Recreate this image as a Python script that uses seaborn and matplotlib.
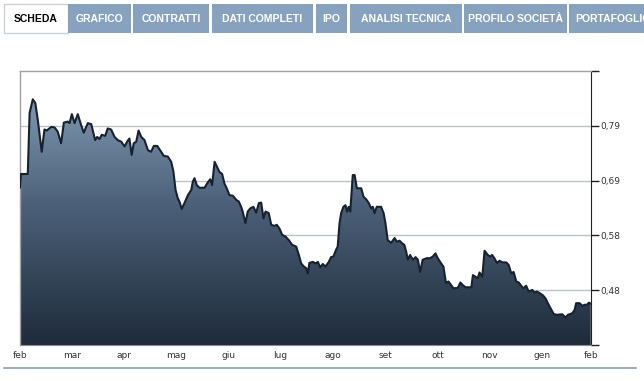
import numpy as np
import matplotlib
matplotlib.use("Agg")
import matplotlib.pyplot as plt
from matplotlib.colors import LinearSegmentedColormap
from matplotlib.patches import Rectangle
import seaborn as sns

# trading sessions (feb -> feb) and closing price
sessions = [0, 0.4, 3.4, 4.2, 5.6, 6.7, 7.8, 9.5, 10.7, 11.7, 13.7, 15.1, 16.5, 18.0, 19.2,
            20.9, 21.7, 22.7, 23.9, 25.3, 26.5, 27.9, 29.7, 31.2, 32.9, 33.8, 34.8, 35.8,
            37.3, 38.4, 39.9, 41.4, 42.8, 44.3, 45.8, 46.9, 47.9, 48.9, 49.8, 50.9, 51.9,
            53.1, 54.5, 56.0, 57.4, 58.6, 60.1, 61.8, 63.0, 64.7, 66.2, 67.2, 68.1, 69.1,
            69.8, 70.8, 72.0, 73.5, 75.0, 75.7, 76.4, 77.4, 78.6, 80.8, 82.2, 83.3, 84.1,
            85.2, 86.2, 87.3, 88.5, 89.5, 90.5, 91.7, 93.2, 94.7, 95.8, 96.8, 97.5, 98.7,
            99.7, 100.8, 102.2, 103.4, 104.6, 105.6, 106.6, 107.5, 108.9, 110.0, 111.4,
            112.4, 113.6, 114.8, 116.2, 117.7, 119.2, 120.9, 122.1, 123.1, 124.1, 125.3,
            126.0, 126.7, 128.2, 129.4, 130.4, 131.4, 132.6, 133.7, 135.2, 136.2, 137.2,
            138.4, 139.1, 139.9, 140.6, 141.6, 142.5, 143.2, 143.9, 144.6, 145.7, 146.5,
            147.5, 149.4, 150.4, 151.6, 152.7, 153.8, 154.5, 155.2, 156.2, 158.1, 159.2,
            160.0, 161.0, 162.5, 164.0, 165.0, 166.2, 167.3, 168.3, 169.1, 169.8, 170.8,
            172.0, 173.2, 174.2, 175.2, 176.3, 178.1, 179.6, 180.7, 181.9, 182.9, 184.4,
            185.4, 186.5, 187.6, 188.8, 189.8, 191.7, 192.8, 193.9, 195.1, 197.6, 198.3,
            199.4, 200.4, 201.2, 202.4, 203.4, 204.8, 205.9, 206.7, 207.7, 208.8, 209.9,
            211.4, 212.9, 214.0, 215.1, 216.1, 217.3, 218.4, 219.4, 220.4, 221.6, 222.7,
            224.3, 225.3, 226.3, 227.5, 228.9, 230.1, 231.1, 232.6, 233.6, 234.8, 237.4,
            238.9, 239.9, 241.8, 242.8, 243.5, 245.0, 246.2, 247.2, 248.2, 249.1, 249.9]
prices = [0.673, 0.699, 0.699, 0.814, 0.840, 0.833, 0.801, 0.741, 0.783, 0.781, 0.788, 0.787,
          0.779, 0.757, 0.796, 0.798, 0.795, 0.812, 0.795, 0.812, 0.795, 0.777, 0.795, 0.793,
          0.763, 0.769, 0.765, 0.773, 0.771, 0.785, 0.783, 0.769, 0.763, 0.760, 0.751, 0.760,
          0.766, 0.735, 0.757, 0.760, 0.781, 0.769, 0.763, 0.744, 0.741, 0.752, 0.752, 0.741,
          0.733, 0.732, 0.722, 0.703, 0.669, 0.653, 0.647, 0.633, 0.644, 0.659, 0.669, 0.685,
          0.691, 0.678, 0.673, 0.673, 0.683, 0.689, 0.678, 0.722, 0.713, 0.703, 0.699, 0.681,
          0.672, 0.659, 0.658, 0.650, 0.647, 0.637, 0.628, 0.606, 0.628, 0.634, 0.637, 0.626,
          0.644, 0.645, 0.615, 0.628, 0.625, 0.603, 0.601, 0.603, 0.596, 0.584, 0.581, 0.574,
          0.565, 0.562, 0.546, 0.530, 0.525, 0.521, 0.511, 0.531, 0.533, 0.530, 0.533, 0.523,
          0.529, 0.524, 0.533, 0.542, 0.543, 0.556, 0.562, 0.606, 0.625, 0.637, 0.640, 0.628,
          0.637, 0.628, 0.697, 0.697, 0.672, 0.672, 0.656, 0.651, 0.644, 0.634, 0.637, 0.625,
          0.637, 0.637, 0.625, 0.606, 0.574, 0.569, 0.578, 0.571, 0.573, 0.568, 0.565, 0.552,
          0.537, 0.546, 0.537, 0.542, 0.537, 0.514, 0.537, 0.540, 0.540, 0.543, 0.549, 0.540,
          0.530, 0.524, 0.493, 0.496, 0.489, 0.483, 0.484, 0.494, 0.489, 0.485, 0.485, 0.508,
          0.505, 0.502, 0.513, 0.505, 0.554, 0.546, 0.543, 0.546, 0.540, 0.531, 0.535, 0.532,
          0.532, 0.527, 0.511, 0.514, 0.496, 0.494, 0.488, 0.483, 0.488, 0.477, 0.480, 0.475,
          0.477, 0.474, 0.470, 0.464, 0.455, 0.443, 0.435, 0.433, 0.434, 0.428, 0.433, 0.436,
          0.442, 0.455, 0.455, 0.450, 0.452, 0.452, 0.456, 0.454]

month_pos = [0.1, 22.9, 45.6, 68.5, 91.4, 114.0, 137.1, 160.0, 183.0, 205.6, 228.4, 249.9]
month_labels = ["feb", "mar", "apr", "mag", "giu", "lug", "ago", "set", "ott", "nov", "gen", "feb"]
y_ticks = [0.376, 0.4795, 0.583, 0.6865, 0.79, 0.8935]
y_labels = ["", "0,48", "0,58", "0,69", "0,79", ""]
tab_labels = ["SCHEDA", "GRAFICO", "CONTRATTI", "DATI COMPLETI", "IPO",
              "ANALISI TECNICA", "PROFILO SOCIETÀ", "PORTAFOGLIO"]
tab_edges = [(4, 68), (68, 131), (133, 209), (212, 313), (316, 347),
             (350, 462), (464, 567), (569, 700)]

W, H = 644, 381
sns.set_style("white")
plt.rcParams["font.family"] = ["DejaVu Sans"]

fig = plt.figure(figsize=(W / 100, H / 100), dpi=100)
ax = fig.add_axes([20 / W, 36 / H, 571 / W, 274 / H])

ymin, ymax = y_ticks[0], y_ticks[-1]

# gridlines under the area
for t in y_ticks[1:-1]:
    ax.axhline(t, color="#b8c3cc", lw=1, zorder=1)

# gradient area clipped to the price curve
poly = ax.fill_between(sessions, prices, ymin, facecolor="none", edgecolor="none", zorder=2)
cmap = LinearSegmentedColormap.from_list("area", ["#1e2b3b", "#4a5f77", "#8ba4be"])
grad = np.linspace(0, 1, 256).reshape(-1, 1)
im = ax.imshow(grad, extent=[0, 250, ymin, ymax], origin="lower", aspect="auto",
               cmap=cmap, zorder=2)
im.set_clip_path(poly.get_paths()[0], transform=ax.transData)

sns.lineplot(x=sessions, y=prices, ax=ax, color="#17222f", lw=1.5, zorder=3,
             estimator=None, sort=False)

ax.set_xlim(0, 250)
ax.set_ylim(ymin, ymax)
ax.set_xticks(month_pos)
ax.set_xticklabels(month_labels)
ax.yaxis.tick_right()
ax.set_yticks(y_ticks)
ax.set_yticklabels(y_labels)
ax.set_xlabel("")
ax.set_ylabel("")
ax.tick_params(axis="x", length=3, width=1, color="#333333", labelsize=6.5,
               labelcolor="#333333", pad=1)
ax.tick_params(axis="y", length=6, width=1, color="#222222", labelsize=6.5,
               labelcolor="#333333", pad=1)

for side in ["left", "top"]:
    ax.spines[side].set_color("#a0a0a0")
    ax.spines[side].set_linewidth(1)
ax.spines["bottom"].set_color("#8c8c8c")
ax.spines["right"].set_color("#222222")
for s in ax.spines.values():
    s.set_visible(True)

# tab bar
for i, (lab, (x0, x1)) in enumerate(zip(tab_labels, tab_edges)):
    active = i == 0
    fig.add_artist(Rectangle((x0 / W, 1 - 33 / H), (x1 - x0) / W, 29 / H,
                             transform=fig.transFigure,
                             facecolor="white" if active else "#87a2be",
                             edgecolor="#c9d2da" if active else "none", lw=1))
    if lab == "PORTAFOGLIO":
        # last tab runs past the right edge, as in the page
        fig.text(575 / W, 1 - 18.5 / H, lab, ha="left", va="center", fontsize=7.5,
                 fontweight="bold", color="white", family=["Liberation Sans", "DejaVu Sans"])
    else:
        fig.text((x0 + x1) / 2 / W, 1 - 18.5 / H, lab, ha="center", va="center",
                 fontsize=7.5, fontweight="bold",
                 color="black" if active else "white",
                 family=["Liberation Sans", "DejaVu Sans"])

# separator line under the chart
fig.add_artist(plt.Line2D([4 / W, 636 / W], [1 - 368 / H] * 2, transform=fig.transFigure,
                          color="#9fb1bf", lw=1.5))

fig.savefig("out.png", dpi=100)
